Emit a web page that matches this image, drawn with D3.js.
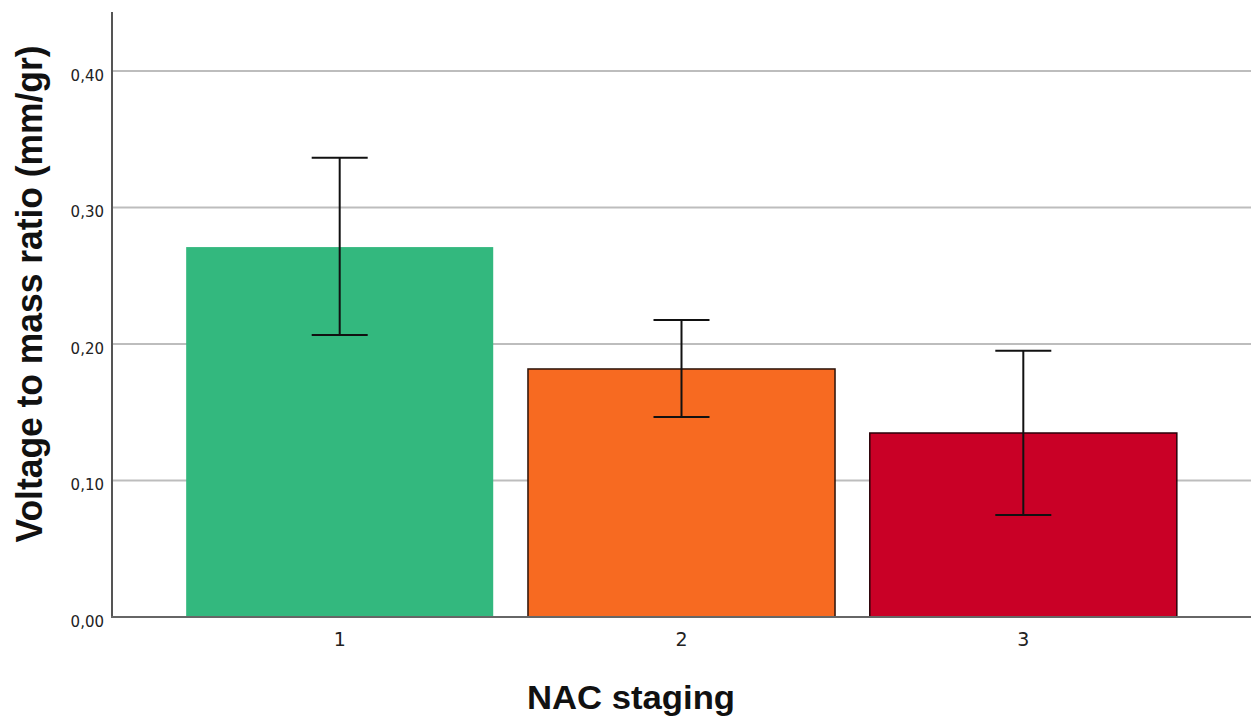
<!DOCTYPE html>
<html>
<head>
<meta charset="utf-8">
<script src="https://cdn.jsdelivr.net/npm/d3@7"></script>
<style>
  html, body { margin: 0; padding: 0; background: #fff; }
  svg { display: block; }
</style>
</head>
<body>
<script>
// ---- data ----
const categories = ["1", "2", "3"];
const means = [0.271, 0.1817, 0.1348];
const errLow = [0.2066, 0.1465, 0.0747];
const errHigh = [0.3365, 0.2176, 0.1950];
const yTicks = [0.0, 0.1, 0.2, 0.3, 0.4];
const xTitle = "NAC staging";
const yTitle = "Voltage to mass ratio (mm/gr)";

// ---- styles ----
const fills = ["#33b87e", "#f76a21", "#c90026"];
const strokes = ["none", "#2a1208", "#2a0008"];

(function () {
const W = 1253, H = 718;
const mLeft = 112, mRight = 1251, mTop = 12, mBottom = 617;

const svg = d3.select("body").append("svg").attr("width", W).attr("height", H);

const x = d3.scaleBand().domain(categories).range([mLeft, mRight])
  .paddingInner(0.1017).paddingOuter(0.217);
const y = d3.scaleLinear().domain([0, (mBottom - mTop) / 1365]).range([mBottom, mTop]);

// gridlines
svg.append("g").selectAll("line").data(yTicks.filter(d => d > 0)).join("line")
  .attr("x1", mLeft).attr("x2", mRight)
  .attr("y1", d => y(d)).attr("y2", d => y(d))
  .attr("stroke", "#bdbdbd").attr("stroke-width", 2);

// y axis labels via d3 axis
const fmt = d => d3.format(".2f")(d).replace(".", ",");
const yAxis = svg.append("g").attr("transform", `translate(${mLeft},0)`)
  .call(d3.axisLeft(y).tickValues(yTicks).tickFormat(fmt).tickSize(0).tickPadding(8));
yAxis.select(".domain").remove();
yAxis.selectAll("text").attr("font-family", "DejaVu Sans").attr("font-size", 15)
  .attr("fill", "#222").attr("dy", "0.62em");

// bars
svg.append("g").selectAll("rect").data(categories).join("rect")
  .attr("x", d => x(d)).attr("width", x.bandwidth())
  .attr("y", (d, i) => y(means[i])).attr("height", (d, i) => y(0) - y(means[i]))
  .attr("fill", (d, i) => fills[i])
  .attr("stroke", (d, i) => strokes[i]).attr("stroke-width", 1.5);

// axis lines
svg.append("line").attr("x1", mLeft).attr("x2", mLeft).attr("y1", mTop).attr("y2", mBottom)
  .attr("stroke", "#555").attr("stroke-width", 2);
svg.append("line").attr("x1", mLeft - 1).attr("x2", mRight).attr("y1", mBottom).attr("y2", mBottom)
  .attr("stroke", "#666").attr("stroke-width", 2);

// error bars
const eb = svg.append("g").attr("stroke", "#111").attr("stroke-width", 2);
categories.forEach((c, i) => {
  const cx = x(c) + x.bandwidth() / 2;
  const capW = 28;
  eb.append("line").attr("x1", cx).attr("x2", cx).attr("y1", y(errHigh[i])).attr("y2", y(errLow[i]));
  eb.append("line").attr("x1", cx - capW).attr("x2", cx + capW).attr("y1", y(errHigh[i])).attr("y2", y(errHigh[i]));
  eb.append("line").attr("x1", cx - capW).attr("x2", cx + capW).attr("y1", y(errLow[i])).attr("y2", y(errLow[i]));
});

// x axis labels
const xAxis = svg.append("g").attr("transform", `translate(0,${mBottom})`)
  .call(d3.axisBottom(x).tickSize(0).tickPadding(16));
xAxis.select(".domain").remove();
xAxis.selectAll("text").attr("font-family", "DejaVu Sans").attr("font-size", 19).attr("fill", "#222");

// titles
svg.append("text").attr("x", 631).attr("y", 709).attr("text-anchor", "middle")
  .attr("font-family", "Liberation Sans, Arial, sans-serif").attr("font-weight", "bold")
  .attr("font-size", 34).attr("fill", "#111")
  .attr("textLength", 208).attr("lengthAdjust", "spacingAndGlyphs").text(xTitle);
svg.append("text").attr("transform", "translate(42,294) rotate(-90)").attr("text-anchor", "middle")
  .attr("font-family", "Liberation Sans, Arial, sans-serif").attr("font-weight", "bold")
  .attr("font-size", 37).attr("fill", "#111")
  .attr("textLength", 497).attr("lengthAdjust", "spacingAndGlyphs").text(yTitle);
})();
</script>
</body>
</html>
